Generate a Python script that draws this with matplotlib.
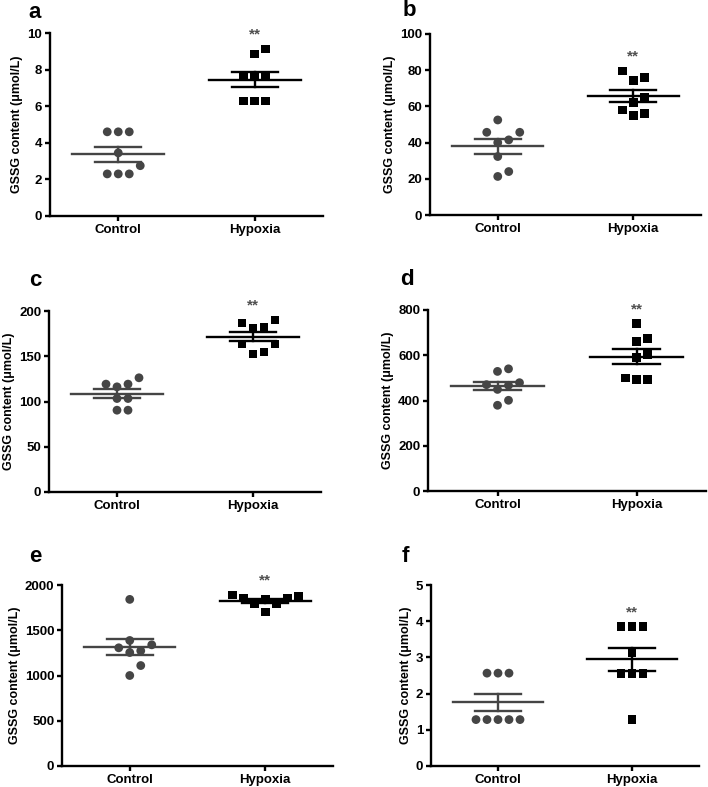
import numpy as np
import matplotlib
matplotlib.use('Agg')
import matplotlib.pyplot as plt

plt.rcParams['font.family'] = ['Liberation Sans', 'DejaVu Sans']
plt.rcParams['font.weight'] = 'bold'

# GSSG content per group
groups = ["Control", "Hypoxia"]
ylabel = "GSSG content (\u03bcmol/L)"
panel_letters = ["a", "b", "c", "d", "e", "f"]

a_control = [4.6, 4.6, 4.6, 3.45, 2.75, 2.3, 2.3, 2.3]
a_hypoxia = [9.13, 8.85, 7.6, 7.6, 7.6, 6.28, 6.28, 6.28]
b_control = [52.5, 45.7, 45.7, 41.5, 40.0, 32.3, 24.0, 21.3]
b_hypoxia = [79.6, 75.8, 74.1, 64.8, 62.2, 58.0, 56.1, 55.0]
c_control = [126.2, 119.2, 119.2, 116.2, 103.3, 103.3, 90.4, 90.4]
c_hypoxia = [190.0, 186.7, 182.3, 181.2, 163.5, 163.5, 154.7, 152.5]
d_control = [540, 528.6, 478.7, 470, 467, 449, 400.9, 378.9]
d_hypoxia = [740, 672.5, 662, 602, 588.8, 499, 492, 492]
e_control = [1841, 1387, 1339, 1306, 1273, 1254, 1110, 1000]
e_hypoxia = [1889, 1878, 1856, 1856, 1845, 1790, 1790, 1702]
f_control = [2.565, 2.565, 2.565, 1.282, 1.282, 1.282, 1.282, 1.282]
f_hypoxia = [3.85, 3.85, 3.85, 3.14, 2.55, 2.55, 2.55, 1.28]

y_max = [10, 100, 200, 800, 2000, 5]
y_step = [2, 20, 50, 200, 500, 1]

# axes boxes in pixels: left, right, top, bottom
W, H = 708, 787
boxes = [(50, 323, 33, 216), (430, 701, 34, 215),
         (49, 321, 311, 492), (428, 706, 310, 491),
         (62, 333, 585, 766), (431, 699, 585, 766)]
letter_pos = [(35, 12), (409, 11), (35, 281), (407, 280), (35, 557), (405, 557)]

CTRL_COL = '#454545'
HYP_COL = '#000000'
SPACING = 11.0  # px between swarm columns


def swarm_offsets(vals, px_per_unit, thr):
	# simple beeswarm: place points from low to high, nearest free column
	order = np.argsort(vals, kind='stable')
	placed = []
	offs = np.zeros(len(vals))
	cands = [0] + [s * j for j in range(1, 10) for s in (1, -1)]
	for i in order:
		y = vals[i] * px_per_unit
		for c in cands:
			x = c * thr
			ok = True
			for px, py in placed:
				if (x - px) ** 2 + (y - py) ** 2 < thr ** 2 - 0.5:
					ok = False
					break
			if ok:
				break
		placed.append((x, y))
		offs[i] = c
	return offs


def draw_group(ax, xc, vals, marker, col, px_per_unit, px_per_x):
	vals = np.array(vals, dtype=float)
	offs = swarm_offsets(vals, px_per_unit, SPACING)
	ax.scatter(xc + offs * SPACING / px_per_x, vals, marker=marker, s=40,
			   color=col, edgecolors='none', zorder=3, clip_on=False)
	m = vals.mean()
	sem = vals.std(ddof=1) / np.sqrt(len(vals))
	ax.plot([xc - 0.337, xc + 0.337], [m, m], color=col, lw=1.7, zorder=4)
	ax.plot([xc - 0.168, xc + 0.168], [m + sem, m + sem], color=col, lw=1.7, zorder=4)
	ax.plot([xc - 0.168, xc + 0.168], [m - sem, m - sem], color=col, lw=1.7, zorder=4)
	ax.plot([xc, xc], [m - sem, m + sem], color=col, lw=1.7, zorder=4)


def main():
	fig = plt.figure(figsize=(W / 100.0, H / 100.0), dpi=100)
	data = [(a_control, a_hypoxia), (b_control, b_hypoxia), (c_control, c_hypoxia),
			(d_control, d_hypoxia), (e_control, e_hypoxia), (f_control, f_hypoxia)]

	for k in range(6):
		l, r, t, b = boxes[k]
		ax = fig.add_axes([l / W, 1 - b / H, (r - l) / W, (b - t) / H])
		ax.set_xlim(-0.5, 1.5)
		ax.set_ylim(0, y_max[k])
		px_per_unit = (b - t) / y_max[k]
		px_per_x = (r - l) / 2.0

		ctrl, hyp = data[k]
		draw_group(ax, 0, ctrl, 'o', CTRL_COL, px_per_unit, px_per_x)
		draw_group(ax, 1, hyp, 's', HYP_COL, px_per_unit, px_per_x)

		# significance stars over hypoxia
		ax.text(1, max(hyp) + 0.08 * y_max[k], "**", ha='center', va='center',
				fontsize=11, color='#505050', clip_on=False)

		ax.set_yticks(np.arange(0, y_max[k] + y_step[k] / 2.0, y_step[k]))
		ax.set_xticks([0, 1])
		ax.set_xticklabels(groups, fontsize=9.5, fontweight='bold')
		for lab in ax.get_yticklabels():
			lab.set_fontsize(9.5)
			lab.set_fontweight('bold')
		ax.set_ylabel(ylabel, fontsize=9, fontweight='bold', labelpad=3)

		for side in ['top', 'right']:
			ax.spines[side].set_visible(False)
		for side in ['left', 'bottom']:
			ax.spines[side].set_linewidth(1.7)
		ax.tick_params(axis='both', direction='out', length=3.5, width=1.7, pad=2)

		fig.text(letter_pos[k][0] / W, 1 - letter_pos[k][1] / H, panel_letters[k],
				 fontsize=16, fontweight='bold', ha='center', va='center')

	fig.savefig('out.png', dpi=100)


if __name__ == "__main__":
	main()
